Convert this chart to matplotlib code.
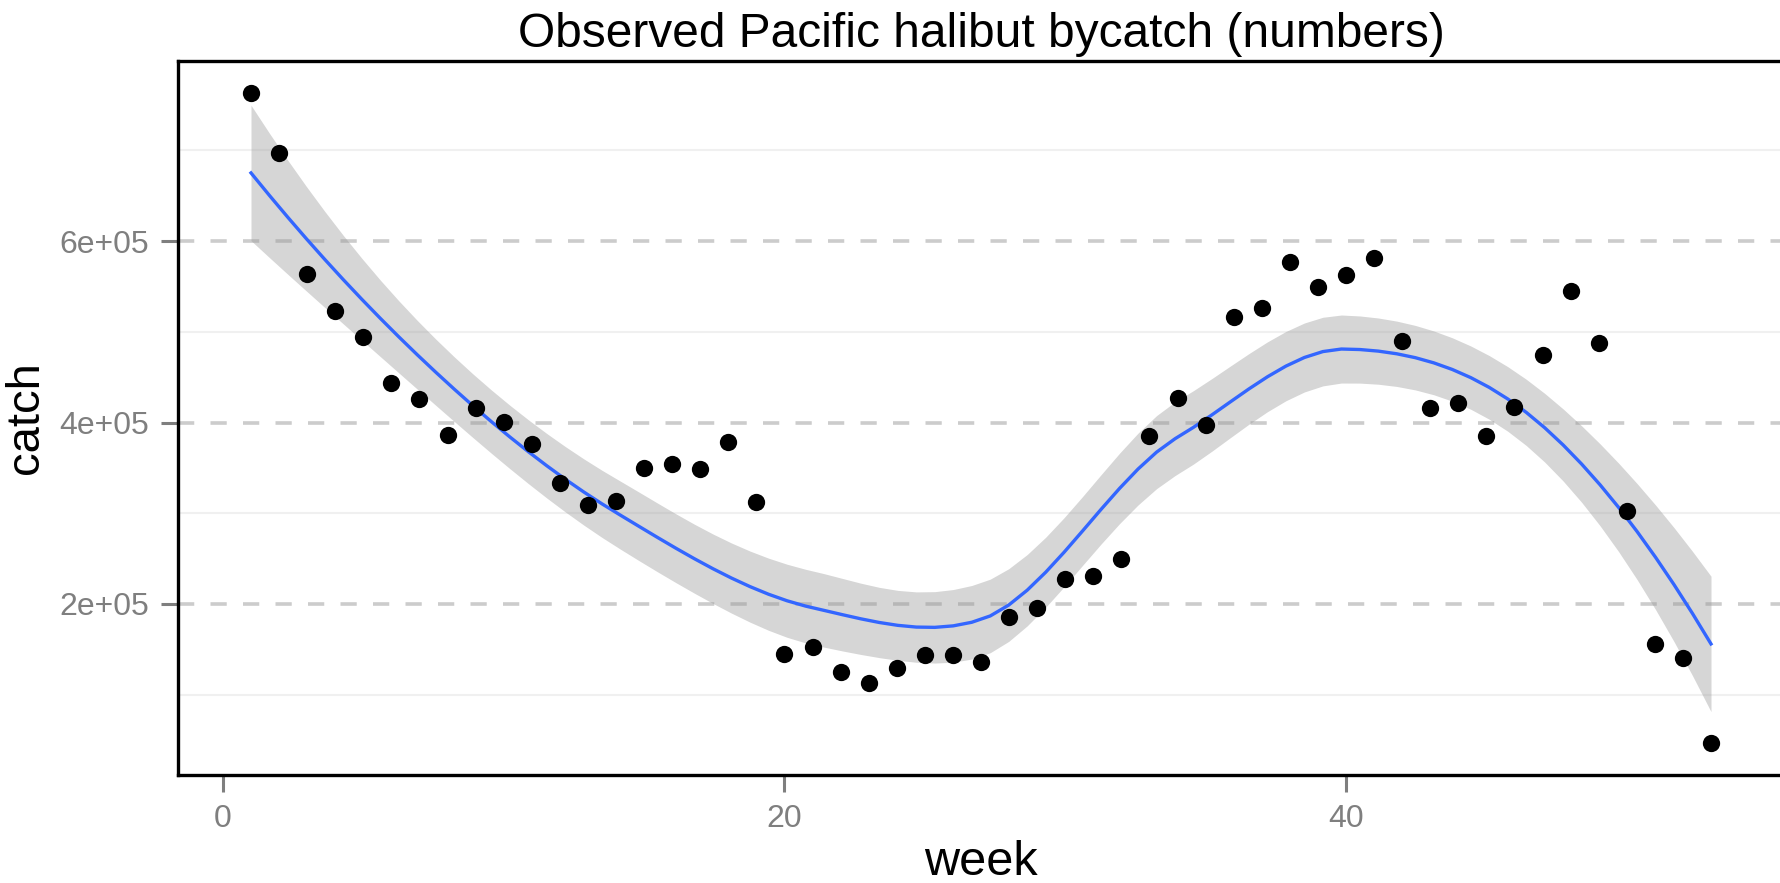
import numpy as np
import matplotlib
matplotlib.use("Agg")
import matplotlib.pyplot as plt

# observed bycatch per week
weeks = np.arange(1, 54)
catch = [
    762800, 697000, 563600, 523300, 494800, 443600, 426400, 386500, 415500, 400800,
    376300, 333200, 308600, 313000, 349600, 354400, 348900, 378900, 311900, 144500,
    152500, 125400, 112700, 129800, 143700, 143700, 135700, 185100, 196000, 227100,
    230700, 250100, 385200, 427100, 397400, 516700, 526600, 577400, 548900, 562500,
    581100, 490400, 415500, 421000, 385000, 417300, 474000, 545300, 487500, 302000,
    155800, 140100, 47200,
]

x_ticks = [0, 20, 40]
y_ticks = [200000, 400000, 600000]
y_tick_labels = ["2e+05", "4e+05", "6e+05"]
y_minor = [100000, 300000, 500000, 700000]


def local_rows(x, x0, q):
    """Rows giving the local quadratic fit and its slope at x0."""
    d = np.abs(x - x0)
    h = np.sort(d)[q - 1]
    w = np.clip(1 - (d / h) ** 3, 0, None) ** 3
    X = np.column_stack([np.ones(len(x)), x - x0, (x - x0) ** 2])
    XtW = X.T * w
    coef = np.linalg.solve(XtW @ X, XtW)
    return coef[0], coef[1]


def kd_vertices(x, fc):
    xs = np.sort(x)
    mu = 0.005 * (xs[-1] - xs[0])
    verts = {xs[0] - mu, xs[-1] + mu}

    def split(lo, hi):
        if hi - lo + 1 <= fc:
            return
        m = (lo + hi) // 2
        verts.add(xs[m])
        split(lo, m)
        split(m + 1, hi)

    split(0, len(xs) - 1)
    return np.array(sorted(verts))


def loess_operator(x, xnew, span=0.75, cell=0.2):
    """loess(surface='interpolate'): fits at kd vertices, Hermite in between."""
    n = len(x)
    q = int(np.floor(n * span))
    verts = kd_vertices(x, int(np.floor(n * span * cell)))
    vals, slopes = zip(*[local_rows(x, v, q) for v in verts])
    vals, slopes = np.array(vals), np.array(slopes)
    L = np.zeros((len(xnew), n))
    for j, x0 in enumerate(xnew):
        i = min(max(np.searchsorted(verts, x0) - 1, 0), len(verts) - 2)
        h = verts[i + 1] - verts[i]
        t = (x0 - verts[i]) / h
        h00 = 2 * t ** 3 - 3 * t ** 2 + 1
        h10 = t ** 3 - 2 * t ** 2 + t
        h01 = -2 * t ** 3 + 3 * t ** 2
        h11 = t ** 3 - t ** 2
        L[j] = (h00 * vals[i] + h10 * h * slopes[i]
                + h01 * vals[i + 1] + h11 * h * slopes[i + 1])
    return L


def t_quantile(df, z=1.959964):
    # Cornish-Fisher expansion for the 97.5% quantile of Student's t
    return (z + (z ** 3 + z) / (4 * df)
            + (5 * z ** 5 + 16 * z ** 3 + 3 * z) / (96 * df ** 2))


x = weeks.astype(float)
y = np.array(catch, dtype=float)

# smooth like stat_smooth(method="loess")
L_fit = loess_operator(x, x)
R = np.eye(len(x)) - L_fit
RtR = R.T @ R
one_delta = np.trace(RtR)
two_delta = np.trace(RtR @ RtR)
sigma = np.sqrt(np.sum((y - L_fit @ y) ** 2) / one_delta)
tq = t_quantile(one_delta ** 2 / two_delta)

x_grid = np.linspace(x.min(), x.max(), 80)
L_grid = loess_operator(x, x_grid)
fit = L_grid @ y
se = sigma * np.sqrt(np.sum(L_grid ** 2, axis=1))
lower = fit - tq * se
upper = fit + tq * se

plt.rcParams["font.family"] = ["Liberation Sans", "DejaVu Sans"]

fig = plt.figure(figsize=(17.81, 8.83), dpi=100)
ax = fig.add_axes([178 / 1781, 108 / 883, 1606 / 1781, 714 / 883])

# grid: dashed majors, faint minors
for v in y_minor:
    ax.axhline(v, color="#F0F0F0", lw=1.5, zorder=0)
for v in y_ticks:
    ax.axhline(v, color="#CCCCCC", lw=2.6, ls=(0, (4.5, 4.5)), zorder=0)

ax.fill_between(x_grid, lower, upper, color="#999999", alpha=0.4, lw=0, zorder=1)
ax.plot(x_grid, fit, color="#3366FF", lw=2.4, zorder=2)
ax.scatter(x, y, s=155, color="black", lw=0, zorder=3)

xr = x.max() - x.min()
yr = y.max() - y.min()
ax.set_xlim(x.min() - 0.05 * xr, x.max() + 0.05 * xr)
ax.set_ylim(y.min() - 0.05 * yr, y.max() + 0.05 * yr)

ax.set_xticks(x_ticks)
ax.set_xticklabels([str(t) for t in x_ticks])
ax.set_yticks(y_ticks)
ax.set_yticklabels(y_tick_labels)
ax.tick_params(axis="both", colors="#7F7F7F", labelsize=23, length=12,
               width=2.2, pad=9)

for side in ["left", "bottom", "top", "right"]:
    ax.spines[side].set_color("black")
    ax.spines[side].set_linewidth(2.4)

ax.set_title("Observed Pacific halibut bycatch (numbers)", fontsize=34.5, pad=10)
ax.set_xlabel("week", fontsize=35, labelpad=4)
ax.set_ylabel("catch", fontsize=34, labelpad=8)

fig.savefig("out.png", dpi=100)
